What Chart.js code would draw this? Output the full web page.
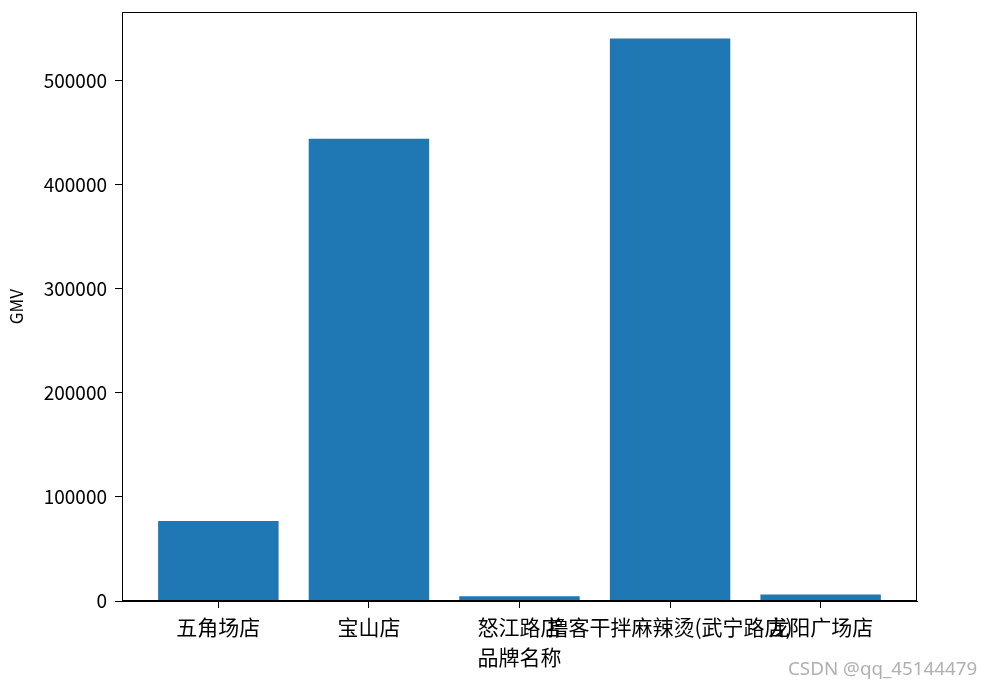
<!DOCTYPE html>
<html>
<head>
<meta charset="utf-8">
<script src="https://cdn.jsdelivr.net/npm/chart.js@4.4.0/dist/chart.umd.min.js"></script>
<style>
html, body { margin: 0; padding: 0; background: #fff; }
#wrap { position: relative; width: 981px; height: 687px; }
#mark { position: absolute; left: 788px; top: 655px; font: 18.8px "Noto Sans", "DejaVu Sans", sans-serif; color: #b0b0b0; }
</style>
</head>
<body>
<div id="wrap">
  <canvas id="myChart" width="981" height="687"></canvas>
  <div id="mark">CSDN @qq_45144479</div>
</div>
<script>
// 门店 / GMV
var stores = ["五角场店", "宝山店", "怒江路店", "撸客干拌麻辣烫(武宁路店)", "龙阳广场店"];
var gmv = [76900, 444300, 4500, 540600, 6200];
var yTicks = [0, 100000, 200000, 300000, 400000, 500000];

var cjk = '"Noto Sans CJK SC", "Noto Sans", sans-serif';

// draw the box round the axes like matplotlib's spines
var frame = {
  id: 'frame',
  afterDatasetsDraw: function(chart) {
    var a = chart.chartArea, ctx = chart.ctx;
    ctx.save();
    ctx.strokeStyle = '#000';
    ctx.lineWidth = 1;
    ctx.strokeRect(a.left + 0.5, a.top + 0.5, a.right - a.left - 1, a.bottom - a.top - 1);
    ctx.restore();
  }
};

var ctx = document.getElementById("myChart");
var myChart = new Chart(ctx, {
  type: 'bar',
  data: {
    datasets: [{
      label: 'GMV',
      backgroundColor: '#1f77b4',
      borderWidth: 0,
      barPercentage: 0.8,
      categoryPercentage: 1,
      data: gmv.map(function(v, i) { return {x: i, y: v}; })
    }]
  },
  options: {
    responsive: false,
    animation: false,
    layout: { padding: { left: 0, right: 64, top: 12, bottom: 0 } },
    plugins: { legend: { display: false }, tooltip: { enabled: false } },
    scales: {
      x: {
        type: 'linear',
        offset: false,
        min: -0.64,
        max: 4.64,
        afterBuildTicks: function(scale) {
          scale.ticks = stores.map(function(s, i) { return {value: i}; });
        },
        afterFit: function(scale) {
          scale.height = 86;
          scale.paddingLeft = 0;
          scale.paddingRight = 0;
        },
        ticks: {
          autoSkip: false,
          maxRotation: 0,
          padding: 6,
          color: '#000',
          font: { family: cjk, size: 21 },
          callback: function(v) { return stores[v]; }
        },
        grid: { display: true, offset: false, drawOnChartArea: false, drawTicks: true, tickLength: 7, color: '#000' },
        border: { display: true, color: '#000' },
        title: { display: true, text: '品牌名称', color: '#000', font: { family: cjk, size: 21 }, padding: { top: 0, bottom: 17 } }
      },
      y: {
        min: 0,
        max: 566000,
        afterBuildTicks: function(scale) {
          scale.ticks = yTicks.map(function(v) { return {value: v}; });
        },
        afterFit: function(scale) {
          scale.width = 122;
          scale.paddingTop = 0;
          scale.paddingBottom = 0;
        },
        ticks: {
          padding: 8,
          color: '#000',
          font: { family: cjk, size: 19 },
          callback: function(v) { return String(v); }
        },
        grid: { display: true, drawOnChartArea: false, drawTicks: true, tickLength: 7, color: '#000' },
        border: { display: true, color: '#000' },
        title: { display: true, text: 'GMV', color: '#000', font: { family: cjk, size: 17 }, padding: { top: 6, bottom: 0 } }
      }
    }
  },
  plugins: [frame]
});
</script>
</body>
</html>
